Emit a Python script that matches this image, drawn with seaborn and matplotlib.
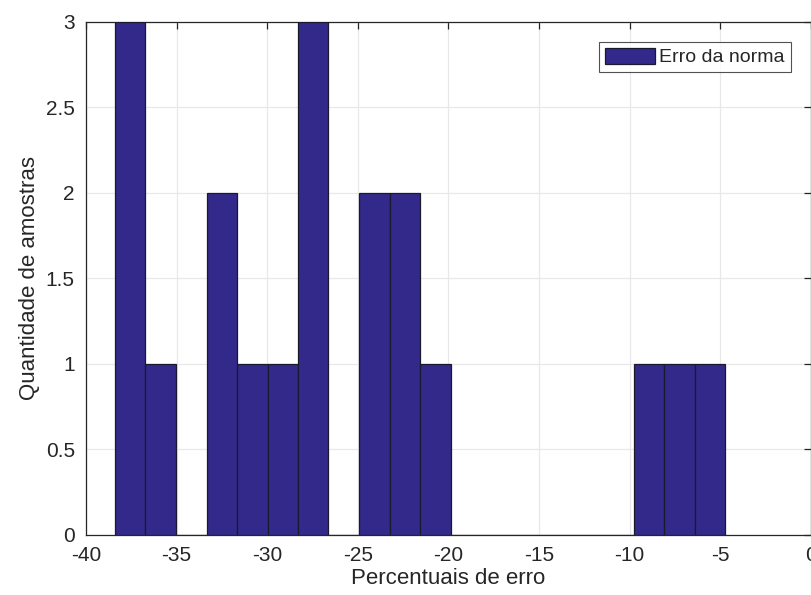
import numpy as np
import matplotlib
matplotlib.use("Agg")
import matplotlib.pyplot as plt
import seaborn as sns

# bin edges and counts (20 bins)
bin_edges = [-38.40, -36.72, -35.03, -33.35, -31.67, -29.98, -28.30, -26.62,
             -24.93, -23.25, -21.57, -19.88, -18.20, -16.52, -14.83, -13.15,
             -11.47, -9.78, -8.10, -6.42, -4.74]
counts = [3, 1, 0, 2, 1, 1, 3, 0, 2, 2, 1, 0, 0, 0, 0, 0, 0, 1, 1, 1]
x_ticks = [-40, -35, -30, -25, -20, -15, -10, -5, 0]
y_ticks = [0, 0.5, 1, 1.5, 2, 2.5, 3]
y_ticklabels = ["0", "0.5", "1", "1.5", "2", "2.5", "3"]

sns.set_style("white")
plt.rcParams["font.family"] = ["Liberation Sans", "DejaVu Sans"]
plt.rcParams["axes.unicode_minus"] = False

centers = [(a + b) / 2 for a, b in zip(bin_edges[:-1], bin_edges[1:])]

fig = plt.figure(figsize=(8.11, 5.95), dpi=100)
ax = fig.add_axes([0.106, 0.101, 0.894, 0.8625])

sns.histplot(x=centers, weights=counts, bins=bin_edges, ax=ax,
             color="#33298a", edgecolor="#1a1a2e", linewidth=0.9, alpha=1,
             label="Erro da norma", zorder=3)

ax.set_xlim(-40, 0)
ax.set_ylim(0, 3)
ax.set_xticks(x_ticks)
ax.set_yticks(y_ticks)
ax.set_yticklabels(y_ticklabels)
ax.grid(True, color="#e8e8e8", linewidth=0.9, zorder=0)
ax.set_axisbelow(True)

for side in ["left", "bottom", "top", "right"]:
    ax.spines[side].set_visible(True)
    ax.spines[side].set_color("#262626")
    ax.spines[side].set_linewidth(0.9)

ax.tick_params(direction="in", length=5, width=0.9, top=True, right=True,
               labelsize=15, colors="#262626")
ax.tick_params(axis="x", pad=8)
ax.tick_params(axis="y", pad=8)

ax.set_xlabel("Percentuais de erro", fontsize=16, color="#262626", labelpad=2)
ax.set_ylabel("Quantidade de amostras", fontsize=16, color="#262626", labelpad=4)

leg = ax.legend(loc="upper right", bbox_to_anchor=(0.972, 0.961), fontsize=14,
                frameon=True, fancybox=False, handlelength=2.6, handleheight=0.9,
                borderpad=0.3, handletextpad=0.2, borderaxespad=0)
leg.get_frame().set_edgecolor("#262626")
leg.get_frame().set_linewidth(0.8)

fig.savefig("out.png", dpi=100)
